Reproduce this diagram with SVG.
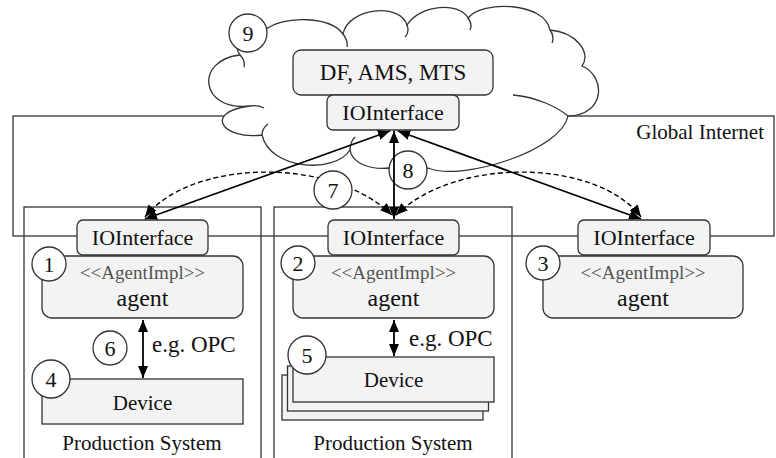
<svg xmlns="http://www.w3.org/2000/svg" width="776" height="458" viewBox="0 0 776 458">
<style>
text{font-family:Liberation Serif, DejaVu Serif, serif}
.frame{fill:none;stroke:#333;stroke-width:1.3}
.box{fill:#f3f3f3;stroke:#333;stroke-width:1.3}
.num{fill:#fff;stroke:#333;stroke-width:1.3}
.t{fill:#111;text-anchor:middle}
.st{fill:#555;text-anchor:middle;font-size:19px}
.n{fill:#111;text-anchor:middle;font-size:22px}
.conn{fill:none;stroke:#000;stroke-width:1.8;marker-start:url(#ah);marker-end:url(#ah)}
.dash{fill:none;stroke:#000;stroke-width:1.4;stroke-dasharray:5 3;marker-start:url(#ah);marker-end:url(#ah)}
.cloud{fill:#fff;stroke:#333;stroke-width:1.3}
.curl{fill:none;stroke:#333;stroke-width:1.3}
</style>
<defs>
<marker id="ah" viewBox="0 0 12 10" refX="12" refY="5" markerWidth="12" markerHeight="10" markerUnits="userSpaceOnUse" orient="auto-start-reverse">
<path d="M0,0 L12,5 L0,10 z" fill="#000"/>
</marker>
</defs>
<rect width="776" height="458" fill="#fff"/>

<g id="global-internet">
<rect class="frame" x="13" y="116" width="761" height="120"/>
<text class="t" x="764" y="139" style="text-anchor:end" font-size="21">Global Internet</text>
</g>

<g id="production-system-1">
<rect class="frame" x="24" y="207" width="237" height="270"/>
<text class="t" x="142" y="450" font-size="21">Production System</text>
</g>
<g id="production-system-2">
<rect class="frame" x="274" y="207" width="238" height="270"/>
<text class="t" x="393" y="450" font-size="21">Production System</text>
</g>

<g id="cloud">
<path class="cloud" d="M 240 55 C 230 42, 246 26, 268 28 C 285 16, 330 16, 343 34 C 348 8, 400 2, 407 25 C 420 4, 460 2, 468 18 C 482 0, 545 2, 550 30 C 575 32, 592 52, 582 66 C 606 76, 606 115, 568 116 C 562 150, 462 182, 428 168 C 420 176, 395 176, 389 168 C 372 170, 352 164, 350 150 C 335 174, 270 170, 262 135 C 222 140, 203 112, 250 106 C 200 112, 194 60, 240 55 Z"/>
<path class="curl" d="M 343 34 C 346 38, 348 42, 347 47 M 550 30 C 553 34, 554 38, 552 43 M 513 95 C 535 97, 556 106, 568 116 M 350 150 C 350 144, 352 140, 355 137 M 262 135 C 262 130, 264 127, 268 124 M 250 106 C 255 105, 260 106, 264 108 M 240 55 C 243 58, 245 62, 244 67 M 407 25 C 409 30, 408 34, 405 37 M 468 18 C 471 22, 472 26, 470 30"/>
</g>
<g id="label-9">
<circle class="num" cx="248" cy="33" r="19"/>
<text class="n" x="248" y="41">9</text>
</g>
<g id="label-8">
<circle class="num" cx="408" cy="170" r="19"/>
<text class="n" x="408" y="178">8</text>
</g>

<g id="platform-services">
<rect class="box" x="293" y="50" width="200" height="45" rx="8"/>
<text class="t" x="393" y="80" font-size="23">DF, AMS, MTS</text>
</g>
<g id="io-platform">
<rect class="box" x="327" y="95" width="132" height="35" rx="6"/>
<text class="t" x="393" y="120" font-size="22">IOInterface</text>
</g>

<g id="connectors">
<line class="conn" x1="390" y1="131" x2="145" y2="219"/>
<line class="conn" x1="394" y1="131" x2="394" y2="219"/>
<line class="conn" x1="398" y1="131" x2="641" y2="219"/>
<path class="dash" d="M 145 217 C 190 160, 330 155, 392 215"/>
<path class="dash" d="M 396 215 C 458 155, 598 160, 641 217"/>
<line class="conn" x1="143" y1="320" x2="143" y2="378"/>
<line class="conn" x1="394" y1="320" x2="394" y2="356"/>
</g>

<g id="io-1">
<rect class="box" x="77" y="220" width="131" height="35" rx="6"/>
<text class="t" x="142.500" y="245" font-size="22">IOInterface</text>
</g>
<g id="agent-1">
<rect class="box" x="42" y="256" width="201" height="62" rx="10"/>
<text class="st" x="142.500" y="279">&lt;&lt;AgentImpl&gt;&gt;</text>
<text class="t" x="142.500" y="306" font-size="24">agent</text>
<circle class="num" cx="49" cy="264" r="17"/>
<text class="n" x="49" y="272">1</text>
</g>
<g id="device-1">
<rect class="box" x="42" y="379" width="201" height="45"/>
<text class="t" x="142.500" y="410" font-size="21">Device</text>
<circle class="num" cx="51" cy="379" r="19"/>
<text class="n" x="51" y="387">4</text>
</g>
<g id="label-6">
<circle class="num" cx="110" cy="348" r="17"/>
<text class="n" x="110" y="356">6</text>
<text class="t" x="152" y="352" font-size="23" style="text-anchor:start">e.g. OPC</text>
</g>

<g id="io-2">
<rect class="box" x="328" y="220" width="131" height="35" rx="6"/>
<text class="t" x="393.500" y="245" font-size="22">IOInterface</text>
</g>
<g id="agent-2">
<rect class="box" x="293" y="256" width="201" height="62" rx="10"/>
<text class="st" x="393.500" y="279">&lt;&lt;AgentImpl&gt;&gt;</text>
<text class="t" x="393.500" y="306" font-size="24">agent</text>
<circle class="num" cx="298" cy="263" r="17"/>
<text class="n" x="298" y="271">2</text>
</g>
<g id="device-2">
<rect class="box" x="282" y="375" width="201" height="45"/>
<rect class="box" x="287.500" y="366" width="201" height="45"/>
<rect class="box" x="293" y="357" width="201" height="45"/>
<text class="t" x="393.500" y="387" font-size="21">Device</text>
<circle class="num" cx="307" cy="355" r="19"/>
<text class="n" x="307" y="363">5</text>
<text class="t" x="409" y="346" font-size="23" style="text-anchor:start">e.g. OPC</text>
</g>

<g id="io-3">
<rect class="box" x="578" y="220" width="132" height="35" rx="6"/>
<text class="t" x="644" y="245" font-size="22">IOInterface</text>
</g>
<g id="agent-3">
<rect class="box" x="543" y="256" width="200" height="62" rx="10"/>
<text class="st" x="643" y="279">&lt;&lt;AgentImpl&gt;&gt;</text>
<text class="t" x="643" y="306" font-size="24">agent</text>
<circle class="num" cx="543" cy="263" r="17"/>
<text class="n" x="543" y="271">3</text>
</g>

<g id="label-7">
<circle class="num" cx="333" cy="190" r="19"/>
<text class="n" x="333" y="198">7</text>
</g>
</svg>
